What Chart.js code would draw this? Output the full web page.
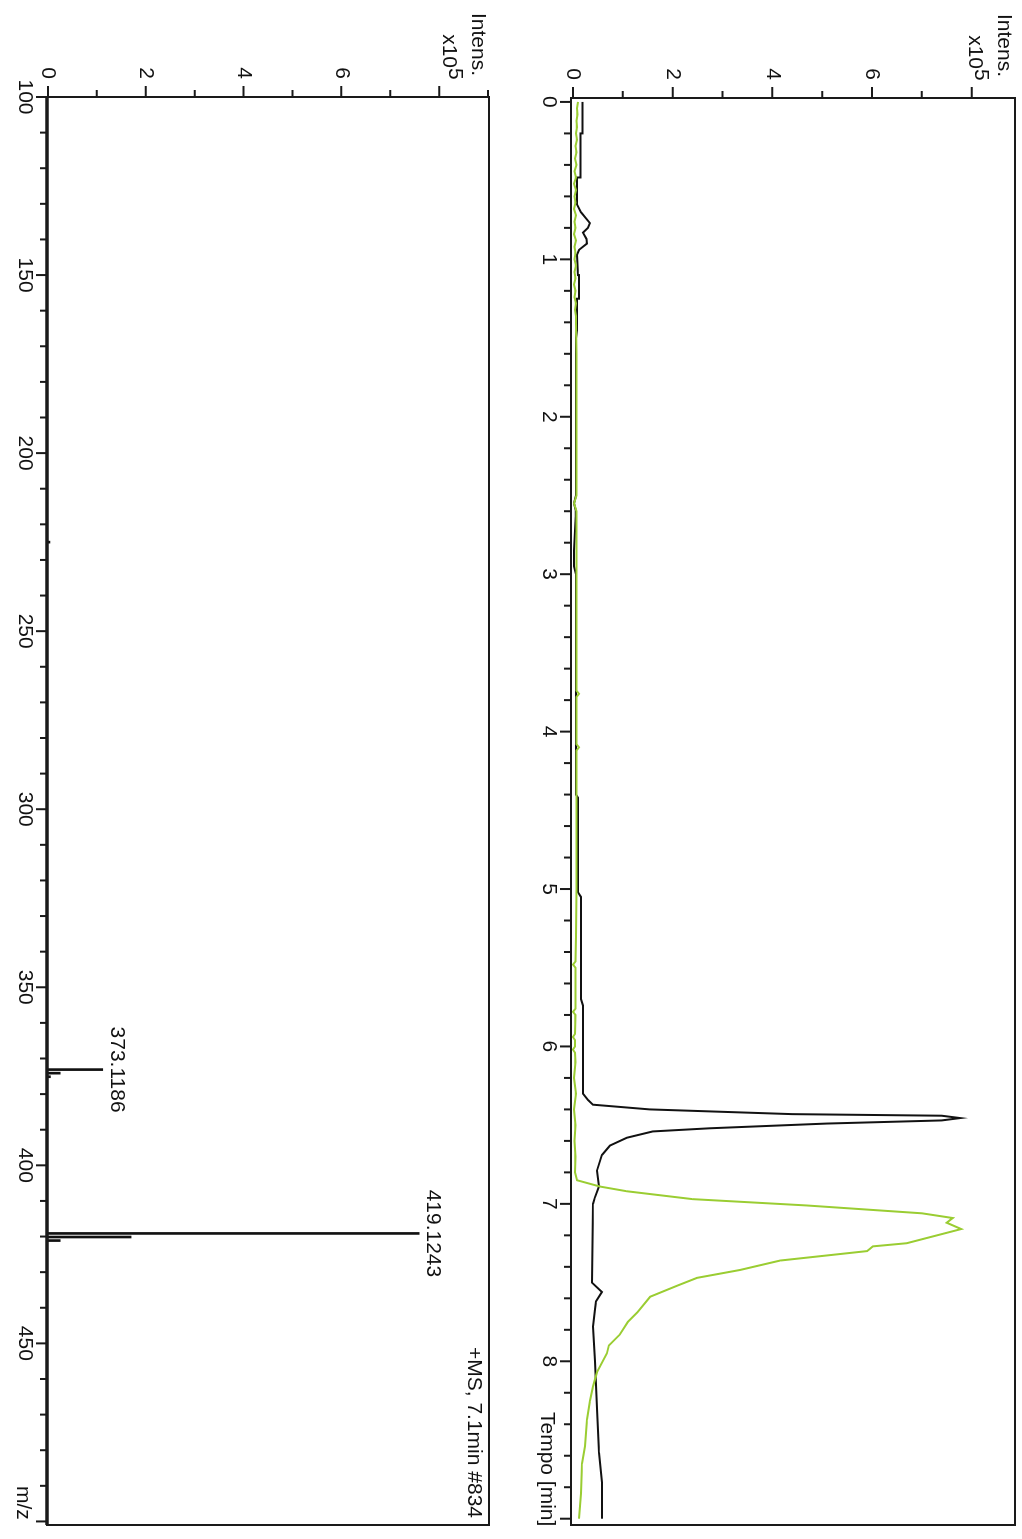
<!DOCTYPE html>
<html>
<head>
<meta charset="utf-8">
<script src="https://cdn.jsdelivr.net/npm/chart.js@4/dist/chart.umd.min.js"></script>
<style>
  html, body { margin: 0; padding: 0; background: #fff; overflow: hidden; }
  body { width: 1022px; height: 1539px; position: relative; }
  /* the instrument printout is laid out landscape and turned a quarter */
  #sheet {
    position: absolute; left: 0; top: 0;
    width: 1539px; height: 1022px;
    transform-origin: 0 0;
    transform: translate(1022px, 0) rotate(90deg);
  }
  canvas { position: absolute; left: 0; }
</style>
</head>
<body>
<div id="sheet">
  <canvas id="ticChart" width="1539" height="520" style="top:0"></canvas>
  <canvas id="msChart" width="1539" height="502" style="top:520px"></canvas>
</div>
<script>
// chromatogram, intensity in units of 1e5
const blackTime = [0, 0.2, 0.2, 0.48, 0.48, 0.65, 0.7, 0.77, 0.8, 0.83, 0.87, 0.9, 0.94, 0.97, 1.1, 1.1, 1.25, 1.25, 1.45, 1.5, 2.5, 2.55, 2.6, 2.85, 2.95, 3.0, 4.4, 4.42, 5.02, 5.05, 5.7, 5.74, 6.3, 6.34, 6.37, 6.4, 6.43, 6.44, 6.455, 6.47, 6.49, 6.52, 6.54, 6.58, 6.63, 6.69, 6.79, 6.89, 6.96, 7.0, 7.5, 7.56, 7.62, 7.67, 7.78, 8.0, 8.3, 8.58, 8.77, 9.0];
const blackIntensity = [0.19, 0.19, 0.15, 0.15, 0.08, 0.08, 0.16, 0.34, 0.3, 0.2, 0.27, 0.28, 0.12, 0.08, 0.1, 0.12, 0.12, 0.08, 0.08, 0.06, 0.06, 0.02, 0.06, 0.02, 0.02, 0.06, 0.06, 0.1, 0.1, 0.16, 0.16, 0.2, 0.2, 0.3, 0.4, 1.54, 4.4, 7.4, 7.77, 7.4, 5.08, 2.74, 1.6, 1.08, 0.74, 0.58, 0.48, 0.52, 0.44, 0.4, 0.38, 0.58, 0.46, 0.44, 0.4, 0.44, 0.48, 0.52, 0.58, 0.58];

const greenTime = [0, 0.04, 0.08, 0.12, 0.16, 0.2, 0.24, 0.28, 0.32, 0.36, 0.4, 0.44, 0.48, 0.52, 0.56, 0.6, 0.64, 0.68, 0.72, 0.76, 0.8, 0.84, 0.88, 0.92, 0.96, 1.0, 1.04, 1.08, 1.12, 1.16, 1.2, 1.24, 1.28, 1.32, 1.36, 1.4, 1.6, 2.0, 2.5, 2.55, 2.6, 3.0, 3.5, 3.74, 3.76, 3.78, 4.08, 4.1, 4.12, 4.5, 5.0, 5.3, 5.46, 5.48, 5.5, 5.76, 5.78, 5.8, 5.92, 5.94, 5.96, 6.0, 6.02, 6.04, 6.1, 6.2, 6.3, 6.4, 6.5, 6.6, 6.7, 6.8, 6.85, 6.89, 6.92, 6.97, 7.01, 7.06, 7.09, 7.12, 7.16, 7.25, 7.27, 7.3, 7.36, 7.42, 7.47, 7.52, 7.59, 7.69, 7.75, 7.83, 7.9, 7.95, 8.07, 8.16, 8.25, 8.37, 8.54, 8.65, 8.84, 9.0];
const greenIntensity = [0.1, 0.08, 0.09, 0.07, 0.08, 0.06, 0.08, 0.05, 0.07, 0.04, 0.07, 0.03, 0.06, 0.02, 0.06, 0.03, 0.05, 0.02, 0.06, 0.03, 0.05, 0.02, 0.06, 0.03, 0.05, 0.03, 0.06, 0.03, 0.05, 0.02, 0.05, 0.03, 0.06, 0.04, 0.06, 0.06, 0.07, 0.07, 0.07, 0.02, 0.07, 0.07, 0.07, 0.07, 0.12, 0.07, 0.07, 0.12, 0.07, 0.07, 0.07, 0.06, 0.05, 0.0, 0.05, 0.05, 0.0, 0.05, 0.04, 0.0, 0.04, 0.04, 0.0, 0.04, 0.05, 0.02, 0.06, 0.02, 0.05, 0.03, 0.05, 0.04, 0.08, 0.54, 1.08, 2.4, 4.68, 7.0, 7.62, 7.5, 7.79, 6.7, 6.02, 5.9, 4.16, 3.35, 2.49, 2.09, 1.55, 1.29, 1.1, 0.94, 0.72, 0.68, 0.48, 0.4, 0.34, 0.28, 0.24, 0.18, 0.16, 0.12];

// mass spectrum at 7.1 min
const msMz = [225.0, 373.1186, 374.12, 375.12, 419.1243, 420.13, 421.13];
const msIntensity = [0.04, 1.12, 0.25, 0.05, 7.59, 1.7, 0.25];
const labelledPeaks = [373.1186, 419.1243];

const FONT = "21px 'Liberation Sans', Arial, sans-serif";
const INK = "#111111";
const GREEN = "#9acd32";

Chart.defaults.font.family = "'Liberation Sans', Arial, sans-serif";
Chart.defaults.font.size = 21;
Chart.defaults.color = INK;

const isStep = (v, step) => Math.abs(v / step - Math.round(v / step)) < 1e-6;

// box, tick marks and the fixed captions around each plot
const frame = {
  id: "frame",
  afterDraw(chart, args, opts) {
    const { ctx, chartArea: a } = chart;
    const { x, y } = chart.scales;
    ctx.save();
    ctx.strokeStyle = "#1a1a1a";
    ctx.lineWidth = 2;
    ctx.beginPath();
    x.ticks.forEach((t) => {
      const px = x.getPixelForValue(t.value);
      const len = isStep(t.value, opts.xMajor) ? 11 : 7;
      ctx.moveTo(px, a.bottom);
      ctx.lineTo(px, a.bottom + len);
    });
    y.ticks.forEach((t) => {
      const py = y.getPixelForValue(t.value);
      const len = isStep(t.value, opts.yMajor) ? 11 : 7;
      ctx.moveTo(a.left, py);
      ctx.lineTo(a.left - len, py);
    });
    ctx.stroke();
    ctx.strokeRect(a.left, a.top, a.right - a.left, a.bottom - a.top);
    if (opts.baseWidth) {
      ctx.lineWidth = opts.baseWidth;
      ctx.beginPath();
      ctx.moveTo(a.left, a.bottom);
      ctx.lineTo(a.right, a.bottom);
      ctx.stroke();
    }

    ctx.fillStyle = INK;
    ctx.font = FONT;
    ctx.textBaseline = "alphabetic";
    ctx.textAlign = "right";
    ctx.fillText("Intens.", a.left - 21, a.top + 17);
    ctx.fillText("x10", a.left - 29, a.top + 46);
    ctx.textAlign = "left";
    ctx.fillText("5", a.left - 29, a.top + 40);
    ctx.fillText(opts.xTitle, opts.xTitleX, a.bottom + 30);
    if (opts.caption) {
      ctx.textAlign = "right";
      ctx.fillText(opts.caption, a.right - 7, a.top + 21);
    }
    ctx.restore();
  },
};

// m/z values written over the main peaks
const peakLabels = {
  id: "peakLabels",
  afterDatasetsDraw(chart) {
    const { ctx } = chart;
    const meta = chart.getDatasetMeta(0);
    ctx.save();
    ctx.font = FONT;
    ctx.fillStyle = INK;
    ctx.textAlign = "center";
    ctx.textBaseline = "alphabetic";
    meta.data.forEach((bar, i) => {
      const mz = msMz[i];
      if (labelledPeaks.includes(mz)) {
        ctx.fillText(mz.toFixed(4), bar.x, bar.y - 8);
      }
    });
    ctx.restore();
  },
};

const axisBase = (fit) => ({
  type: "linear",
  grid: { display: false, drawTicks: false },
  border: { display: false },
  afterFit: fit,
});

const ticChart = new Chart(document.getElementById("ticChart"), {
  type: "line",
  data: {
    datasets: [
      {
        label: "black",
        data: blackTime.map((t, i) => ({ x: t, y: blackIntensity[i] })),
        borderColor: INK,
        borderWidth: 2,
        pointRadius: 0,
        tension: 0,
        order: 2,
      },
      {
        label: "green",
        data: greenTime.map((t, i) => ({ x: t, y: greenIntensity[i] })),
        borderColor: GREEN,
        borderWidth: 2,
        pointRadius: 0,
        tension: 0,
        order: 1,
      },
    ],
  },
  options: {
    responsive: false,
    animation: false,
    layout: { padding: { top: 7, right: 14, left: 0, bottom: 0 } },
    scales: {
      x: {
        ...axisBase((s) => {
          s.height = 69;
          s.paddingLeft = 0;
          s.paddingRight = 0;
        }),
        min: -0.025,
        max: 9.04,
        ticks: {
          stepSize: 0.2,
          includeBounds: false,
          autoSkip: false,
          maxRotation: 0,
          padding: 10,
          callback: (v) => (isStep(v, 1) && v < 8.5 ? String(Math.round(v)) : ""),
        },
      },
      y: {
        ...axisBase((s) => {
          s.width = 98;
          s.paddingTop = 0;
          s.paddingBottom = 0;
        }),
        min: -0.04,
        max: 8.87,
        ticks: {
          stepSize: 1,
          includeBounds: false,
          autoSkip: false,
          padding: 18,
          callback: (v) => (isStep(v, 2) && v < 7.5 ? String(Math.round(v)) : ""),
        },
      },
    },
    plugins: {
      legend: { display: false },
      tooltip: { enabled: false },
      frame: { xMajor: 1, yMajor: 2, xTitle: "Tempo [min]", xTitleX: 1412 },
    },
  },
  plugins: [frame],
});

const msChart = new Chart(document.getElementById("msChart"), {
  type: "bar",
  data: {
    datasets: [
      {
        label: "+MS",
        data: msMz.map((m, i) => ({ x: m, y: msIntensity[i] })),
        backgroundColor: INK,
        borderWidth: 0,
        barThickness: 2,
      },
    ],
  },
  options: {
    responsive: false,
    animation: false,
    layout: { padding: { top: 13, right: 14, left: 0, bottom: 0 } },
    scales: {
      x: {
        ...axisBase((s) => {
          s.height = 47;
          s.paddingLeft = 0;
          s.paddingRight = 0;
        }),
        offset: false,
        min: 100,
        max: 501,
        ticks: {
          stepSize: 10,
          includeBounds: false,
          autoSkip: false,
          maxRotation: 0,
          padding: 10,
          callback: (v) => (isStep(v, 50) && v < 475 ? String(Math.round(v)) : ""),
        },
      },
      y: {
        ...axisBase((s) => {
          s.width = 97;
          s.paddingTop = 0;
          s.paddingBottom = 0;
        }),
        min: -0.02,
        max: 9.02,
        ticks: {
          stepSize: 1,
          includeBounds: false,
          autoSkip: false,
          padding: 18,
          callback: (v) => (isStep(v, 2) && v < 7.5 ? String(Math.round(v)) : ""),
        },
      },
    },
    plugins: {
      legend: { display: false },
      tooltip: { enabled: false },
      frame: {
        xMajor: 50,
        yMajor: 2,
        xTitle: "m/z",
        xTitleX: 1486,
        caption: "+MS, 7.1min #834",
        baseWidth: 3.5,
      },
    },
  },
  plugins: [frame, peakLabels],
});
</script>
</body>
</html>
